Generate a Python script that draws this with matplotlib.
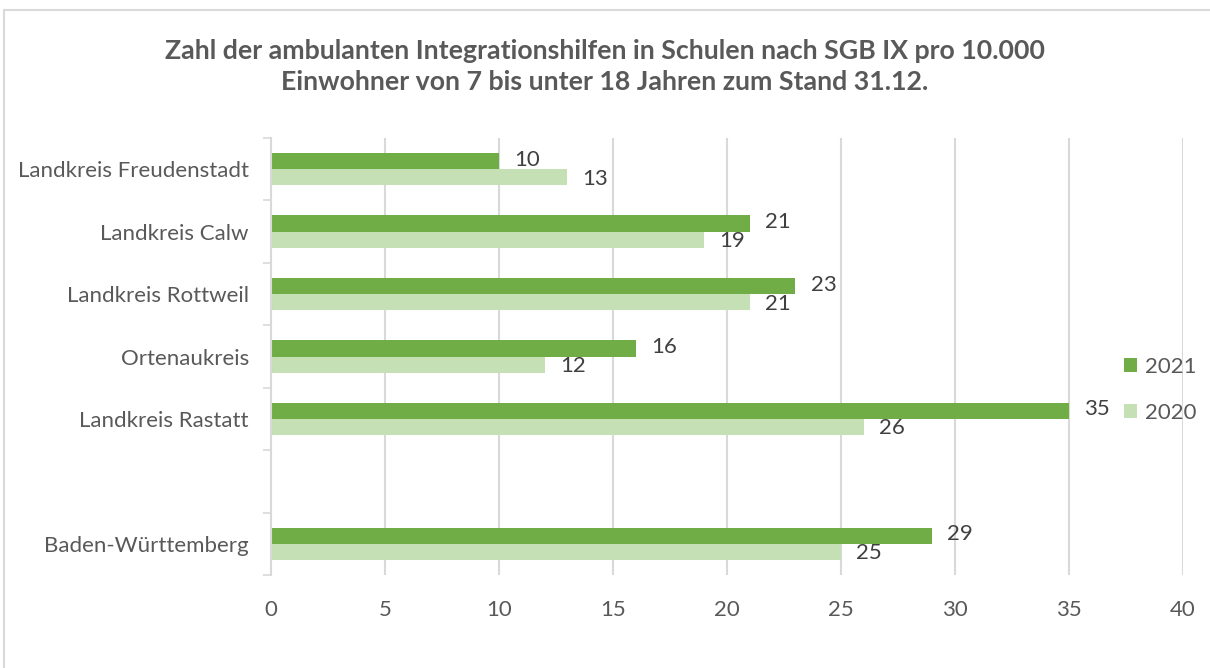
import numpy as np
import matplotlib
matplotlib.use("Agg")
import matplotlib.pyplot as plt
from matplotlib.patches import Rectangle

categories = ["Landkreis Freudenstadt", "Landkreis Calw", "Landkreis Rottweil",
              "Ortenaukreis", "Landkreis Rastatt", "", "Baden-Württemberg"]
values_2021 = [10, 21, 23, 16, 35, np.nan, 29]
values_2020 = [13, 19, 21, 12, 26, np.nan, 25]
x_ticks = [0, 5, 10, 15, 20, 25, 30, 35, 40]
title = ("Zahl der ambulanten Integrationshilfen in Schulen nach SGB IX pro 10.000\n"
         "Einwohner von 7 bis unter 18 Jahren zum Stand 31.12.")

plt.rcParams['font.family'] = ['Lato', 'DejaVu Sans']
C21 = "#70AD47"
C20 = "#C5E0B4"
GRID = "#D9D9D9"
TXT = "#595959"
FS = 16

fig = plt.figure(figsize=(12.1, 6.68), dpi=100)
ax = fig.add_axes([271/1210, 1-575/668, (1183-271)/1210, (575-138)/668])

y = np.arange(len(categories))
h = 0.26
ax.barh(y - h/2, values_2021, height=h, color=C21, label="2021", zorder=3)
ax.barh(y + h/2, values_2020, height=h, color=C20, label="2020", zorder=3)

for yi, v in zip(y, values_2021):
    if not np.isnan(v):
        ax.annotate(f"{v:g}", (v, yi - h/2), xytext=(11, 1), textcoords="offset points",
                    va="center", ha="left", fontsize=FS, color="#404040")
for yi, v in zip(y, values_2020):
    if not np.isnan(v):
        ax.annotate(f"{v:g}", (v, yi + h/2), xytext=(11, -1), textcoords="offset points",
                    va="center", ha="left", fontsize=FS, color="#404040")

ax.set_xlim(0, 40)
ax.set_ylim(len(categories) - 0.5, -0.5)
ax.set_xticks(x_ticks)
ax.set_xticklabels([str(t) for t in x_ticks])
ax.set_yticks(y)
ax.set_yticklabels(categories)
ax.set_yticks(np.arange(len(categories) + 1) - 0.5, minor=True)
ax.tick_params(axis="y", which="major", length=0, pad=16, labelsize=FS, labelcolor=TXT)
ax.tick_params(axis="y", which="minor", length=6, width=1.2, color=GRID)
ax.tick_params(axis="x", length=0, pad=18, labelsize=FS, labelcolor=TXT)

ax.grid(axis="x", color=GRID, linewidth=1.5, zorder=0)
for s in ["top", "right", "bottom"]:
    ax.spines[s].set_visible(False)
ax.spines["left"].set_color(GRID)
ax.spines["left"].set_linewidth(1.5)
ax.spines["left"].set_zorder(4)

fig.suptitle(title, x=0.5, y=1-39/668, fontsize=19.3, fontweight="bold",
             color=TXT, linespacing=1.35, va="top")

leg = ax.legend(loc="center left", bbox_to_anchor=(1124/1210, 1-390/668),
                bbox_transform=fig.transFigure, frameon=False, fontsize=FS,
                handlelength=0.6, handleheight=0.6, handletextpad=0.35,
                labelspacing=1.15, borderpad=0, borderaxespad=0)
for t in leg.get_texts():
    t.set_color(TXT)

fig.patches.append(Rectangle((4/1210, -0.01), 1.0, 1.01-10/668, transform=fig.transFigure,
                             fill=False, edgecolor=GRID, linewidth=1.5))

fig.savefig("out.png", dpi=100, facecolor="white")
